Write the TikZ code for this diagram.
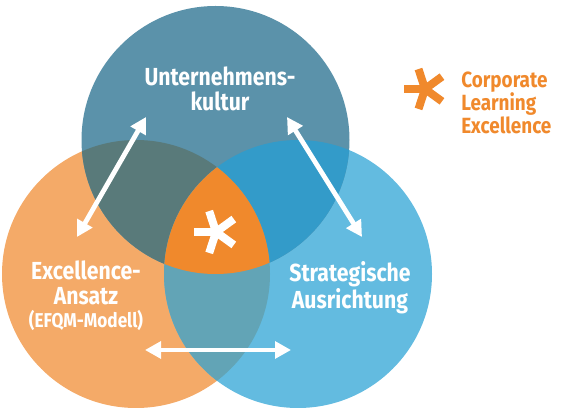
\documentclass[tikz,border=0pt]{standalone}
\usepackage{fontspec}
\setmainfont{Fira Sans}
\newfontfamily\venfont[FakeStretch=0.86]{Fira Sans}
\usetikzlibrary{arrows.meta}
\usepackage{xcolor}

\definecolor{kultur}{RGB}{91,146,170}
\definecolor{excellence}{RGB}{244,170,104}
\definecolor{strategie}{RGB}{99,187,224}
\definecolor{kulturexc}{RGB}{89,122,122}
\definecolor{kulturstrat}{RGB}{51,155,201}
\definecolor{excstrat}{RGB}{98,164,182}
\definecolor{kern}{RGB}{240,137,44}

\tikzset{
  circletext/.style={text=white,inner sep=0pt,align=center,font=\venfont\bfseries\fontsize{18.5}{18.75}\selectfont},
  legendtext/.style={text=kern,inner sep=0pt,align=left,font=\venfont\bfseries\fontsize{16.5}{17.25}\selectfont},
  twoway/.style={draw=white,line width=3.6pt,{Triangle[length=12pt,width=12.5pt]}-{Triangle[length=12pt,width=12.5pt]}},
  arm/.style={line width=6pt}
}

\begin{document}
\begin{tikzpicture}[x=0.75pt,y=0.75pt,yscale=-1,xscale=1]
\path[use as bounding box] (0,0) rectangle (561,416);

%Circles
\fill[excellence] (136,274) circle (134);
\fill[strategie] (298,274) circle (134);
\fill[kultur] (215.5,140) circle (134);
%Overlaps
\begin{scope}
\clip (215.5,140) circle (134);
\fill[kulturexc] (136,274) circle (134);
\fill[kulturstrat] (298,274) circle (134);
\end{scope}
\begin{scope}
\clip (136,274) circle (134);
\fill[excstrat] (298,274) circle (134);
\end{scope}
\begin{scope}
\clip (215.5,140) circle (134);
\clip (136,274) circle (134);
\fill[kern] (298,274) circle (134);
\end{scope}

%Stars
\coordinate (kernstar) at (216,232);
\coordinate (legendstar) at (425,89);
\foreach \a in {180,108,36,-36,-108} {
  \draw[arm,white] (kernstar) -- ++(\a:22);
  \draw[arm,kern] (legendstar) -- ++(\a:21);
}

%Arrow ends
\coordinate (kultur-l) at (146,117);
\coordinate (exc-t) at (77,237);
\coordinate (kultur-r) at (287,117);
\coordinate (strat-t) at (362,237);
\coordinate (exc-r) at (145,350);
\coordinate (strat-l) at (291,350);
\draw[twoway] (exc-t) -- (kultur-l);
\draw[twoway] (kultur-r) -- (strat-t);
\draw[twoway] (exc-r) -- (strat-l);

% Text Node
\node[circletext] (kulturlabel) at (220,89) {Unternehmens-\\kultur};
% Text Node
\node[circletext] (exclabel) at (86,283) {Excellence-\\Ansatz};
% Text Node
\node[circletext,anchor=base,font=\venfont\bfseries\fontsize{15}{16}\selectfont] (efqmlabel) at (86,328) {(EFQM-Modell)};
% Text Node
\node[circletext] (stratlabel) at (350,287.5) {Strategische\\Ausrichtung};
% Text Node
\node[legendtext,anchor=west] (legendlabel) at (461,103) {Corporate\\Learning\\Excellence};

\end{tikzpicture}
\end{document}
